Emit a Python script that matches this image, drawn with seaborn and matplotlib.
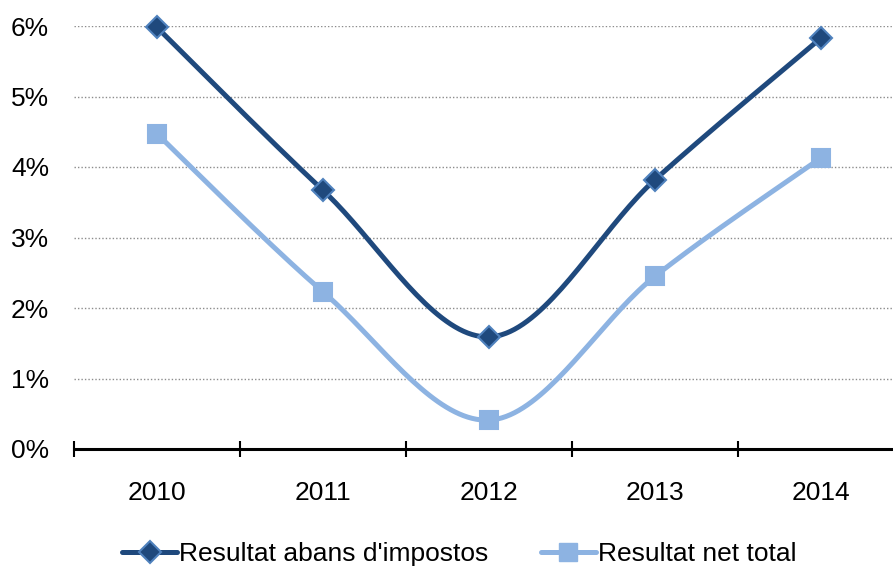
import numpy as np
import pandas as pd
import matplotlib
matplotlib.use("Agg")
import matplotlib.pyplot as plt
import seaborn as sns
from matplotlib.lines import Line2D
from matplotlib.ticker import FixedLocator, PercentFormatter

years = ["2010", "2011", "2012", "2013", "2014"]
abans_impostos = [5.98, 3.67, 1.59, 3.82, 5.83]
net_total = [4.47, 2.23, 0.41, 2.45, 4.13]
y_ticks = [0, 1, 2, 3, 4, 5, 6]

dark = "#1F497D"
dark_edge = "#4F81BD"
light = "#8DB3E2"

sns.set_style("white")
plt.rcParams["font.family"] = ["Liberation Sans", "DejaVu Sans"]
plt.rcParams["text.color"] = "black"
plt.rcParams["xtick.color"] = "black"
plt.rcParams["ytick.color"] = "black"


def smooth(xs, ys, n=40):
    # excel-like smoothing (catmull-rom through the points)
    p = np.column_stack([xs, ys]).astype(float)
    p = np.vstack([p[0], p, p[-1]])
    out = []
    for i in range(1, len(p) - 2):
        p0, p1, p2, p3 = p[i - 1], p[i], p[i + 1], p[i + 2]
        c1 = p1 + (p2 - p0) / 6
        c2 = p2 - (p3 - p1) / 6
        t = np.linspace(0, 1, n)[:, None]
        seg = ((1 - t) ** 3) * p1 + 3 * ((1 - t) ** 2) * t * c1 + 3 * (1 - t) * t ** 2 * c2 + t ** 3 * p2
        out.append(seg if i == 1 else seg[1:])
    out = np.vstack(out)
    return out[:, 0], out[:, 1]


fig = plt.figure(figsize=(8.93, 5.66), dpi=100)
ax = fig.add_axes([74 / 893, 117 / 566, 830 / 893, 423 / 566])
ax.patch.set_alpha(0)

xpos = np.arange(len(years))
series = [
    ("Resultat abans d'impostos", abans_impostos, dark, "D", dark_edge, 11),
    ("Resultat net total", net_total, light, "s", light, 12.5),
]
for name, vals, col, mk, edge, ms in series:
    sx, sy = smooth(xpos, vals)
    df = pd.DataFrame({"x": sx, "y": sy})
    sns.lineplot(data=df, x="x", y="y", ax=ax, color=col, linewidth=3.6, sort=False,
                 estimator=None, clip_on=False)
    ax.plot(xpos, vals, linestyle="none", marker=mk, markersize=ms, markerfacecolor=col,
            markeredgecolor=edge, markeredgewidth=1.5, clip_on=False, zorder=5)

ax.set_xlim(-0.5, len(years) - 0.5)
ax.set_ylim(0, 6)

# gridlines (dotted), not at zero
for v in y_ticks[1:]:
    ax.axhline(v, color="#8C8C8C", linestyle=(0, (1, 1.5)), linewidth=1.0, zorder=0)

ax.yaxis.set_major_locator(FixedLocator(y_ticks))
ax.yaxis.set_major_formatter(PercentFormatter(decimals=0))
ax.tick_params(axis="y", left=True, length=0, pad=18, labelsize=19, labelcolor="black")

ax.xaxis.set_major_locator(FixedLocator(np.arange(-0.5, len(years), 1.0)))
ax.xaxis.set_minor_locator(FixedLocator(xpos))
ax.set_xticklabels([""] * (len(years) + 1))
ax.set_xticklabels(years, minor=True)
ax.tick_params(axis="x", which="major", bottom=True, direction="inout", length=11, width=1.5,
               color="black")
ax.tick_params(axis="x", which="minor", bottom=True, length=0, pad=23, labelsize=19,
               labelcolor="black")

for s in ["left", "right", "top"]:
    ax.spines[s].set_visible(False)
ax.spines["bottom"].set_color("black")
ax.spines["bottom"].set_linewidth(2.2)
ax.set_xlabel("")
ax.set_ylabel("")

handles = [
    Line2D([], [], color=dark, linewidth=3.6, marker="D", markersize=11,
           markerfacecolor=dark, markeredgecolor=dark_edge, markeredgewidth=1.5),
    Line2D([], [], color=light, linewidth=3.6, marker="s", markersize=12.5,
           markerfacecolor=light, markeredgecolor=light),
]
fig.legend(handles, [s[0] for s in series], loc="center", bbox_to_anchor=(459 / 893, 12 / 566),
           ncol=2, frameon=False, fontsize=19, handlelength=2.1, handletextpad=0.05,
           columnspacing=2.0, labelcolor="black")

fig.savefig("out.png", dpi=100)
